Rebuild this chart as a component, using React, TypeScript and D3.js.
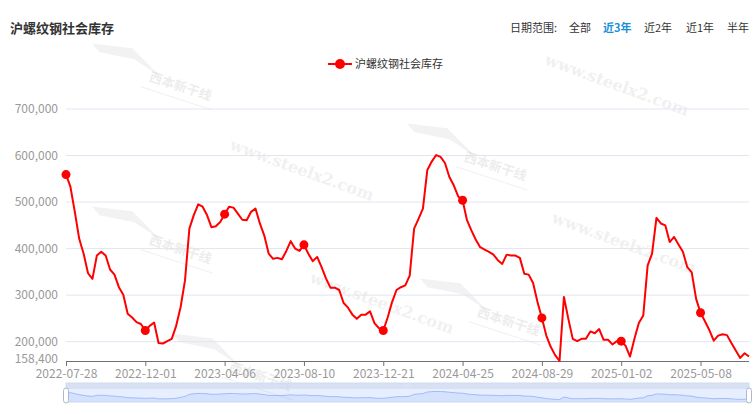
import { useEffect, useRef } from 'react';
import * as d3 from 'd3';

const W = 754;
const H = 414;

const title = '沪螺纹钢社会库存';
const seriesName = '沪螺纹钢社会库存';
const rangeOptions = ['全部', '近3年', '近2年', '近1年', '半年'];
const activeRange = '近3年';

// weekly dates; one week (2023-10-05, holiday) is missing from the source
const startDate = '2022-07-28';
const skippedDates = ['2023-10-05'];
const pointCount = 156;

const yTicks = [200000, 300000, 400000, 500000, 600000, 700000];
const yMax = 700000;

// weekly stock, tonnes
const stock = [
  559000, 533000, 479000, 421000, 389000, 347000, 335000, 385000, 393000, 385000,
  355000, 344000, 317000, 301000, 260000, 252000, 242000, 238000, 224000, 234000,
  241000, 197000, 196000, 201000, 206000, 234000, 274000, 331000, 443000, 472000,
  495000, 490000, 472000, 446000, 448000, 457000, 474000, 490000, 488000, 475000,
  462000, 461000, 479000, 486000, 454000, 428000, 389000, 378000, 380000, 377000,
  395000, 416000, 400000, 395000, 408000, 389000, 373000, 382000, 360000, 336000,
  316000, 316000, 311000, 283000, 273000, 258000, 249000, 258000, 258000, 265000,
  240000, 229000, 224000, 252000, 285000, 311000, 317000, 321000, 342000, 443000,
  464000, 486000, 569000, 587000, 601000, 597000, 584000, 554000, 536000, 512000,
  504000, 461000, 439000, 419000, 403000, 398000, 393000, 387000, 375000, 367000,
  387000, 385000, 385000, 380000, 346000, 344000, 326000, 285000, 251000, 213000,
  189000, 171000, 158400, 296000, 249000, 206000, 201000, 206000, 206000, 222000,
  218000, 227000, 204000, 204000, 194000, 201000, 201000, 191000, 168000, 206000,
  240000, 256000, 364000, 389000, 466000, 454000, 450000, 414000, 425000, 409000,
  393000, 360000, 349000, 292000, 262000, 244000, 225000, 202000, 213000, 216000,
  214000, 197000, 181000, 165000, 175000, 168000,
];

const symbolEvery = 18;

const watermarksUrl = [
  { x: 300, y: 175 }, { x: 615, y: 90 }, { x: 622, y: 248 }, { x: 380, y: 308 },
];
const watermarksLogo = [
  { x: 150, y: 75 }, { x: 150, y: 238 }, { x: 465, y: 155 }, { x: 478, y: 310 }, { x: 230, y: 365 },
];

function buildDates(): string[] {
  const fmt = d3.timeFormat('%Y-%m-%d');
  const out: string[] = [];
  let d = new Date(startDate + 'T00:00:00');
  while (out.length < pointCount) {
    const s = fmt(d);
    if (!skippedDates.includes(s)) out.push(s);
    d = d3.timeWeek.offset(d, 1);
  }
  return out;
}

const FONT = '"Noto Sans CJK SC", "Noto Sans", sans-serif';

export default function App() {
  const svgRef = useRef<SVGSVGElement>(null);

  useEffect(() => {
    if (!svgRef.current) return;
    const svg = d3.select(svgRef.current);
    svg.selectAll('*').remove();

    const dates = buildDates();
    const margin = { top: 109, right: 5, bottom: 53, left: 66 };
    const innerW = W - margin.left - margin.right;
    const innerH = H - margin.top - margin.bottom;
    const yMin = d3.min(stock) as number;

    const x = d3.scalePoint<string>().domain(dates).range([0, innerW]);
    const y = d3.scaleLinear().domain([yMin, yMax]).range([innerH, 0]);

    // watermarks
    const wm = svg.append('g').attr('pointer-events', 'none');
    watermarksLogo.forEach(p => {
      const g = wm.append('g').attr('transform', `translate(${p.x},${p.y}) rotate(18)`);
      g.append('path')
        .attr('d', 'M-65,-12 L-25,-20 L10,-2 L-20,-10 L-55,-6 Z')
        .attr('fill', '#000').attr('opacity', 0.05);
      g.append('text').attr('x', 0).attr('y', 6).text('西本新干线')
        .attr('font-family', FONT).attr('font-size', 13).attr('font-weight', 'bold')
        .attr('fill', '#000').attr('opacity', 0.07);
      g.append('line').attr('x1', -5).attr('x2', 70).attr('y1', 14).attr('y2', 14)
        .attr('stroke', '#000').attr('opacity', 0.05);
    });
    watermarksUrl.forEach(p => {
      wm.append('text')
        .attr('transform', `translate(${p.x},${p.y}) rotate(20)`)
        .attr('text-anchor', 'middle')
        .text('www.steelx2.com')
        .attr('font-family', '"DejaVu Serif", serif').attr('font-size', 16).attr('font-weight', 'bold')
        .attr('fill', '#000').attr('opacity', 0.055);
    });

    // header
    svg.append('text').attr('x', 10).attr('y', 33).text(title)
      .attr('font-family', FONT).attr('font-size', 13).attr('font-weight', 'bold').attr('fill', '#333');
    const header = svg.append('g').attr('font-family', FONT).attr('font-size', 11);
    header.append('text').attr('x', 510).attr('y', 32).text('日期范围:').attr('fill', '#333');
    const optX = [569, 603, 644, 686, 727];
    rangeOptions.forEach((o, i) => {
      header.append('text').attr('x', optX[i]).attr('y', 32).text(o)
        .attr('fill', o === activeRange ? '#1890d8' : '#333')
        .attr('font-weight', o === activeRange ? 'bold' : 'normal');
    });

    // legend
    const lg = svg.append('g').attr('transform', 'translate(328,64)');
    lg.append('line').attr('x1', 0).attr('x2', 24).attr('stroke', '#ff0000').attr('stroke-width', 2);
    lg.append('circle').attr('cx', 12).attr('r', 5).attr('fill', '#ff0000');
    lg.append('text').attr('x', 27).attr('y', 4).text(seriesName)
      .attr('font-family', FONT).attr('font-size', 11).attr('fill', '#333');

    const g = svg.append('g').attr('transform', `translate(${margin.left},${margin.top})`);

    // grid
    g.append('g').selectAll('line').data(yTicks).join('line')
      .attr('x1', 0).attr('x2', innerW)
      .attr('y1', d => y(d)).attr('y2', d => y(d))
      .attr('stroke', '#e0e6f1').attr('stroke-width', 1);

    // y labels
    g.append('g').selectAll('text').data([yMin, ...yTicks]).join('text')
      .attr('x', -8).attr('y', d => y(d) + (d === yMin ? 2 : 4))
      .attr('text-anchor', 'end')
      .text(d => d3.format(',')(d))
      .attr('font-family', FONT).attr('font-size', 12).attr('fill', '#999');

    // x axis
    const tickDates = dates.filter((_, i) => i % symbolEvery === 0);
    g.append('line').attr('x1', 0).attr('x2', innerW).attr('y1', innerH + 0.5).attr('y2', innerH + 0.5)
      .attr('stroke', '#6e7079');
    const xt = g.append('g').selectAll('g').data(tickDates).join('g')
      .attr('transform', d => `translate(${(x(d) as number) + 0.5},${innerH})`);
    xt.append('line').attr('y1', 0).attr('y2', 5).attr('stroke', '#6e7079');
    xt.append('text').attr('y', 17).attr('text-anchor', 'middle').text(d => d)
      .attr('font-family', FONT).attr('font-size', 12).attr('fill', '#999');

    // series
    const line = d3.line<number>()
      .x((_, i) => x(dates[i]) as number)
      .y(d => y(d));
    g.append('path').datum(stock).attr('d', line)
      .attr('fill', 'none').attr('stroke', '#ff0000').attr('stroke-width', 2)
      .attr('stroke-linejoin', 'round');
    g.append('g').selectAll('circle')
      .data(stock.map((v, i) => ({ v, i })).filter(d => d.i % symbolEvery === 0))
      .join('circle')
      .attr('cx', d => x(dates[d.i]) as number).attr('cy', d => y(d.v))
      .attr('r', 4.5).attr('fill', '#ff0000');

    // data zoom slider
    const sz = { x: margin.left, y: 383, w: innerW, h: 19 };
    const dz = svg.append('g');
    const ext = d3.extent(stock) as [number, number];
    const off = (ext[1] - ext[0]) * 0.3;
    const sx = d3.scalePoint<string>().domain(dates).range([sz.x, sz.x + sz.w]);
    const sy = d3.scaleLinear().domain([ext[0] - off, ext[1] + off]).range([sz.y + sz.h, sz.y + 6]);
    dz.append('rect').attr('x', sz.x).attr('y', sz.y).attr('width', sz.w).attr('height', sz.h)
      .attr('fill', 'rgba(135,175,254,0.2)').attr('stroke', '#d2dbee');
    dz.append('rect').attr('x', sz.x).attr('y', sz.y).attr('width', sz.w).attr('height', 6)
      .attr('fill', '#d2dbee').attr('opacity', 0.7);
    const area = d3.area<number>()
      .x((_, i) => sx(dates[i]) as number).y0(sz.y + sz.h).y1(d => sy(d));
    dz.append('path').datum(stock).attr('d', area).attr('fill', '#8fb0f7').attr('opacity', 0.2);
    dz.append('path').datum(stock)
      .attr('d', d3.line<number>().x((_, i) => sx(dates[i]) as number).y(d => sy(d)))
      .attr('fill', 'none').attr('stroke', '#8fb0f7').attr('stroke-width', 0.8);
    [sz.x, sz.x + sz.w].forEach(hx => {
      dz.append('rect').attr('x', hx - 2.5).attr('y', sz.y + 5).attr('width', 5).attr('height', sz.h - 4)
        .attr('rx', 2.5).attr('fill', '#fff').attr('stroke', '#acb8d1');
    });
    dz.append('text').attr('x', sz.x + sz.w / 2).attr('y', sz.y + 5).attr('text-anchor', 'middle')
      .text('···').attr('font-size', 6).attr('fill', '#fff');
  }, []);

  return (
    <div style={{ position: 'absolute', left: 0, top: 0, width: W, height: H, background: '#fff' }}>
      <svg ref={svgRef} width={W} height={H} />
    </div>
  );
}
